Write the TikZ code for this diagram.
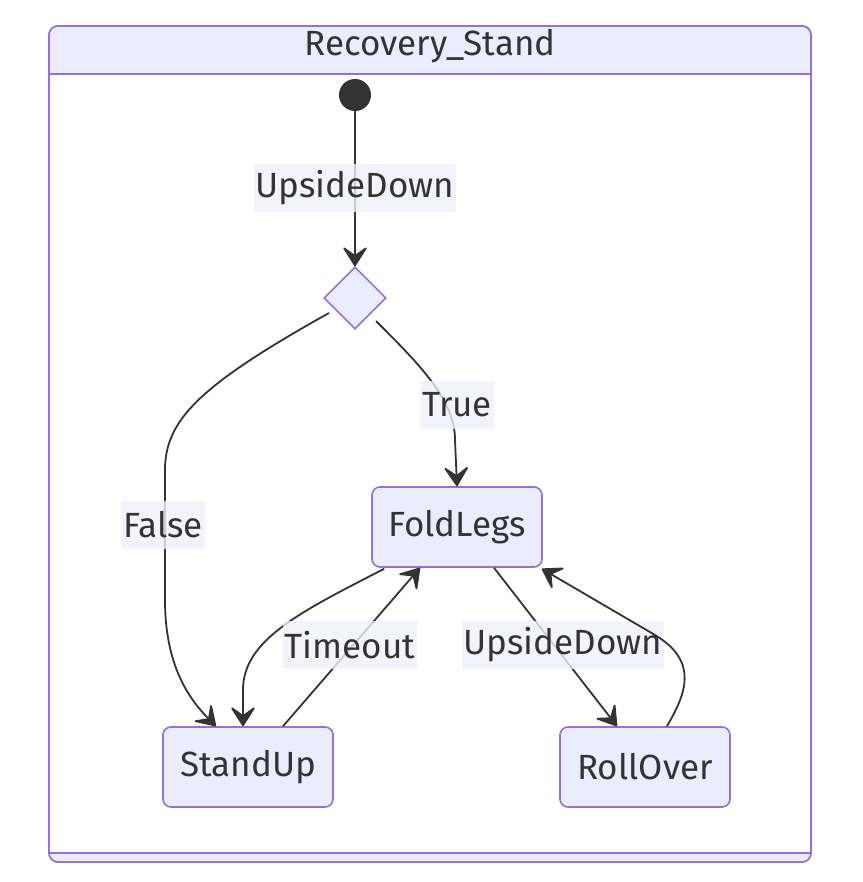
\documentclass[tikz,border=0pt]{standalone}
\usepackage{fontspec}
\setmainfont{Fira Sans}
\usetikzlibrary{arrows.meta,shapes.geometric}
\definecolor{stfill}{HTML}{ECECFF}
\definecolor{stline}{HTML}{9370DB}
\definecolor{edgecol}{HTML}{333333}
\definecolor{lblbg}{HTML}{F0F0FA}

\begin{document}
\begin{tikzpicture}[
  x=1pt, y=-1pt,
  font=\fontsize{35}{40}\selectfont, text=edgecol,
  state/.style={draw=stline, fill=stfill, line width=1.6pt, rounded corners=8pt,
    minimum width=170pt, minimum height=80pt, inner sep=0pt},
  choice/.style={diamond, draw=stline, fill=stfill, line width=1.6pt,
    minimum width=62pt, minimum height=62pt, inner sep=0pt},
  startdot/.style={circle, fill=edgecol, minimum size=32pt, inner sep=0pt},
  lbl/.style={fill=lblbg, fill opacity=0.8, text opacity=1, inner xsep=2pt,
    inner ysep=0pt, minimum height=48pt},
  ar/.style={draw=edgecol, line width=1.8pt,
    arrows={-Stealth[length=22pt, width=28pt, inset=10pt, round=false]}}
]
\useasboundingbox (0,0) rectangle (862,882);
% composite state frame
\draw[draw=stline, fill=white, line width=1.6pt, rounded corners=9pt] (49,26) rectangle (811,862);
\fill[stfill, rounded corners=8pt] (50,27) rectangle (810,74);
\fill[stfill] (50,50) rectangle (810,74);
\draw[stline, line width=1.6pt] (49,74) -- (811,74);
\fill[stfill, rounded corners=8pt] (50,853) rectangle (810,861);
\fill[stfill] (50,853) rectangle (810,856);
\draw[stline, line width=1.6pt] (49,853) -- (811,853);
\draw[draw=stline, line width=1.6pt, rounded corners=9pt] (49,26) rectangle (811,862);
\node (title) at (430,46) {Recovery\_Stand};

\node[startdot] (start) at (355,95) {};
\node[choice] (ch) at (355,298) {};
\node[state] (fold) at (457,527) {FoldLegs};
\node[state] (stand) at (248,767) {StandUp};
\node[state] (roll) at (645,767) {RollOver};

\draw[ar] (start) -- (ch.north);
\node[lbl] (l1) at (355,188) {UpsideDown};

\draw[ar] ([shift={(-26,15)}]ch.center) .. controls (200,385) and (165,420) .. (165,470)
  -- (165,600) .. controls (165,660) and (185,695) .. ([xshift=-32pt]stand.north);
\node[lbl] (l2) at (163,525) {False};

\draw[ar] ([shift={(21,23)}]ch.center) .. controls (420,365) and (455,400) .. (455,440)
  -- (fold.north);
\node[lbl] (l3) at (457,405) {True};

\draw[ar] ([shift={(13,1)}]fold.south west) .. controls (300,612) and (243,640) .. (243,690)
  -- ([xshift=-5pt]stand.north);
\draw[ar] ([xshift=35pt]stand.north) -- ([xshift=-37pt]fold.south);
\node[lbl] (l4) at (350,645) {Timeout};

\draw[ar] ([xshift=37pt]fold.south) -- ([xshift=-28pt]roll.north);
\node[lbl] (l5) at (563,645) {UpsideDown};

\draw[ar] ([xshift=22pt]roll.north) .. controls (685,695) and (700,662) .. (655,635)
  -- ([shift={(-1,1)}]fold.south east);
\end{tikzpicture}
\end{document}
